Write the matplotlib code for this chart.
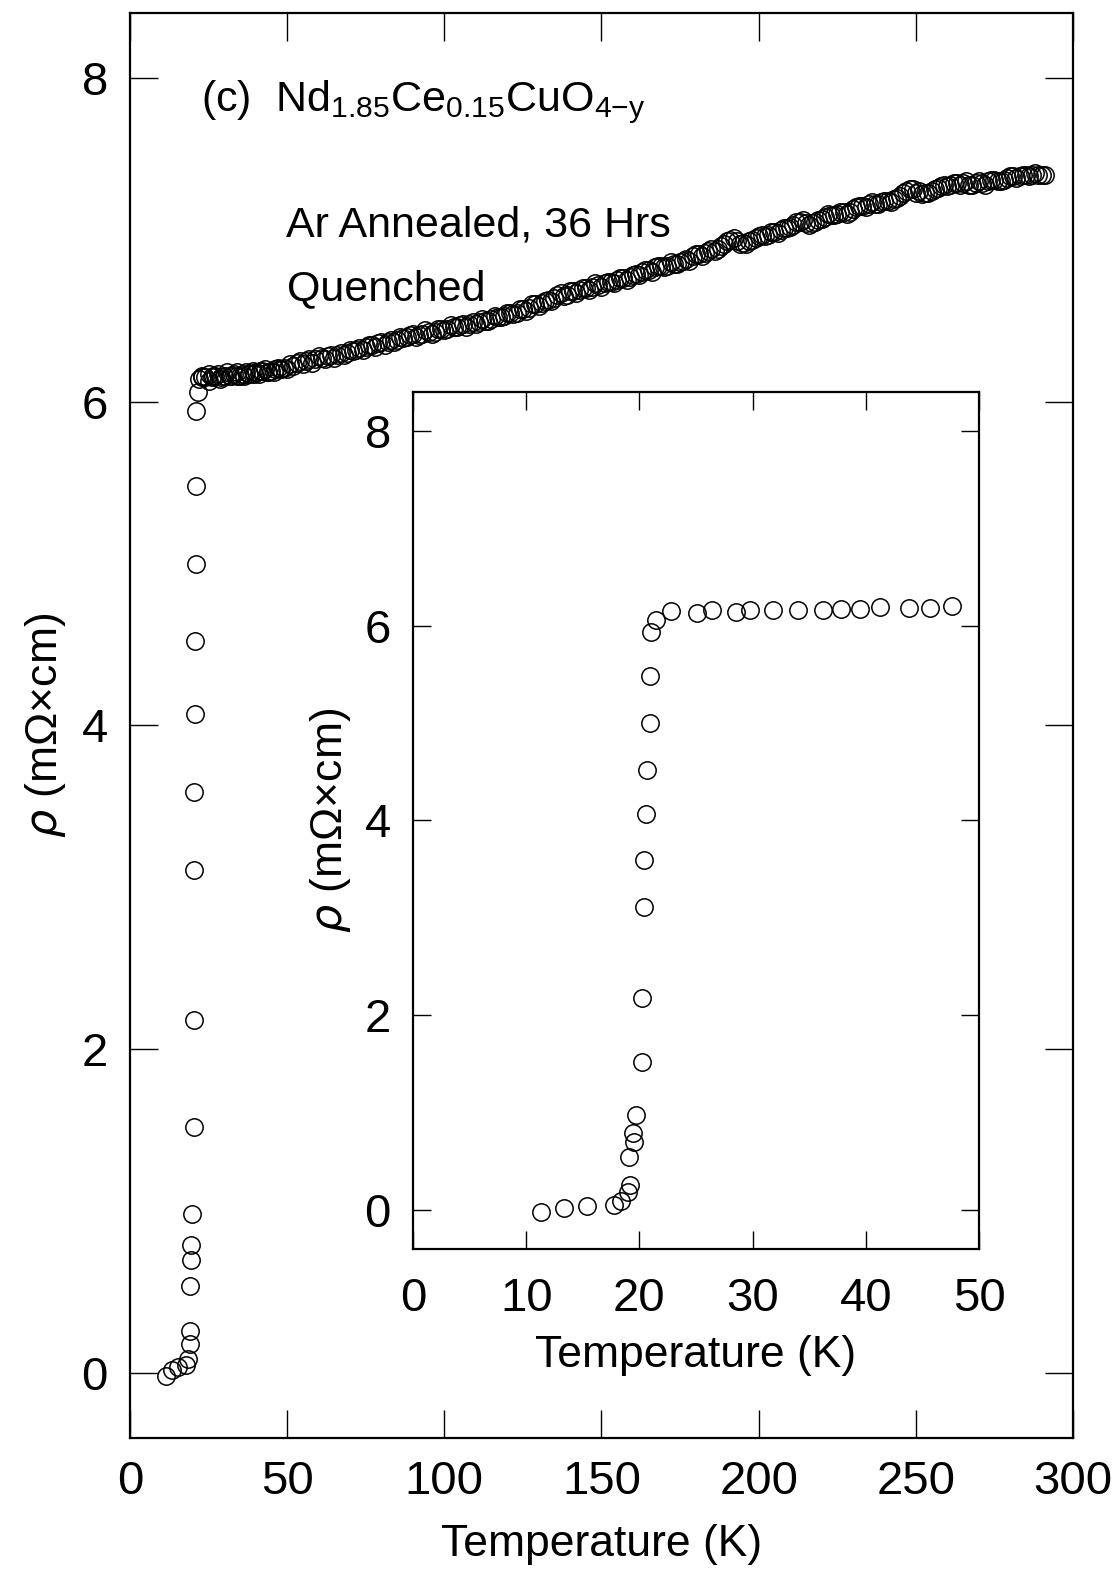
import numpy as np
import matplotlib
matplotlib.use("Agg")
import matplotlib.pyplot as plt

plt.rcParams['font.family'] = ['Liberation Sans', 'DejaVu Sans']
plt.rcParams['mathtext.fontset'] = 'custom'
plt.rcParams['mathtext.rm'] = 'Liberation Sans'
plt.rcParams['mathtext.it'] = 'DejaVu Sans:italic'

# low temperature sweep through the superconducting transition (K, mOhm cm)
t_low = [11.3, 13.3, 15.4, 17.8, 18.4, 19.0, 19.2, 19.1, 19.5, 19.4,
         19.7, 20.2, 20.2, 20.4, 20.4, 20.6, 20.7, 20.9, 20.9, 21.0,
         21.5, 22.8, 25.1, 26.4, 28.5, 29.8, 31.8, 34.0, 36.2, 37.8,
         39.5, 41.3, 43.8, 45.7, 47.6]
rho_low = [-0.02, 0.02, 0.04, 0.05, 0.09, 0.18, 0.26, 0.54, 0.70, 0.79,
           0.98, 1.52, 2.18, 3.11, 3.59, 4.07, 4.52, 5.00, 5.48, 5.94,
           6.06, 6.15, 6.13, 6.16, 6.14, 6.16, 6.16, 6.16, 6.16, 6.17,
           6.17, 6.19, 6.18, 6.18, 6.20]

# extra points of the warming run just above Tc (main panel only)
t_mid = [22, 23, 24, 25, 26, 27, 28, 29, 30, 31,
         32, 33, 34, 35, 36, 37, 38, 39, 40, 41,
         42, 43, 44, 45, 46, 47, 48]
rho_mid = [6.14, 6.16, 6.15, 6.17, 6.15, 6.16, 6.17, 6.15, 6.16, 6.18,
           6.16, 6.17, 6.18, 6.16, 6.17, 6.18, 6.17, 6.19, 6.18, 6.17,
           6.19, 6.20, 6.18, 6.19, 6.20, 6.21, 6.20]

# normal state, 49 K up to room temperature
t_high = [49, 50, 51, 52, 53, 54, 55, 56, 57, 58,
          59, 60, 61, 62, 63, 64, 65, 66, 67, 68,
          69, 70, 71, 72, 73, 74, 75, 76, 77, 78,
          79, 80, 81, 82, 83, 84, 85, 86, 87, 88,
          89, 90, 91, 92, 93, 94, 95, 96, 97, 98,
          99, 100, 101, 102, 103, 104, 105, 106, 107, 108,
          109, 110, 111, 112, 113, 114, 115, 116, 117, 118,
          119, 120, 121, 122, 123, 124, 125, 126, 127, 128,
          129, 130, 131, 132, 133, 134, 135, 136, 137, 138,
          139, 140, 141, 142, 143, 144, 145, 146, 147, 148,
          149, 150, 151, 152, 153, 154, 155, 156, 157, 158,
          159, 160, 161, 162, 163, 164, 165, 166, 167, 168,
          169, 170, 171, 172, 173, 174, 175, 176, 177, 178,
          179, 180, 181, 182, 183, 184, 185, 186, 187, 188,
          189, 190, 191, 192, 193, 194, 195, 196, 197, 198,
          199, 200, 201, 202, 203, 204, 205, 206, 207, 208,
          209, 210, 211, 212, 213, 214, 215, 216, 217, 218,
          219, 220, 221, 222, 223, 224, 225, 226, 227, 228,
          229, 230, 231, 232, 233, 234, 235, 236, 237, 238,
          239, 240, 241, 242, 243, 244, 245, 246, 247, 248,
          249, 250, 251, 252, 253, 254, 255, 256, 257, 258,
          259, 260, 261, 262, 263, 264, 265, 266, 267, 268,
          269, 270, 271, 272, 273, 274, 275, 276, 277, 278,
          279, 280, 281, 282, 283, 284, 285, 286, 287, 288,
          289, 290, 291]
rho_high = [6.21, 6.20, 6.23, 6.22, 6.24, 6.25, 6.23, 6.25, 6.26, 6.24,
            6.26, 6.28, 6.27, 6.26, 6.28, 6.29, 6.27, 6.29, 6.30, 6.29,
            6.30, 6.32, 6.31, 6.32, 6.33, 6.32, 6.34, 6.35, 6.35, 6.34,
            6.36, 6.37, 6.35, 6.37, 6.38, 6.37, 6.38, 6.40, 6.39, 6.40,
            6.41, 6.42, 6.40, 6.41, 6.42, 6.44, 6.43, 6.42, 6.43, 6.45,
            6.45, 6.44, 6.45, 6.47, 6.46, 6.46, 6.47, 6.48, 6.46, 6.48,
            6.49, 6.48, 6.49, 6.51, 6.50, 6.50, 6.51, 6.53, 6.52, 6.52,
            6.53, 6.55, 6.55, 6.54, 6.55, 6.57, 6.57, 6.56, 6.58, 6.60,
            6.60, 6.59, 6.61, 6.62, 6.63, 6.62, 6.64, 6.66, 6.67, 6.65,
            6.66, 6.68, 6.68, 6.67, 6.69, 6.70, 6.70, 6.69, 6.71, 6.73,
            6.72, 6.71, 6.73, 6.74, 6.74, 6.73, 6.75, 6.76, 6.76, 6.75,
            6.77, 6.78, 6.79, 6.78, 6.80, 6.81, 6.81, 6.80, 6.83, 6.84,
            6.84, 6.83, 6.84, 6.86, 6.85, 6.85, 6.86, 6.87, 6.88, 6.87,
            6.90, 6.91, 6.91, 6.90, 6.92, 6.93, 6.94, 6.93, 6.94, 6.96,
            6.97, 6.99, 7.00, 7.01, 6.99, 6.97, 6.98, 6.97, 6.99, 7.00,
            7.01, 7.02, 7.03, 7.02, 7.03, 7.05, 7.05, 7.04, 7.06, 7.07,
            7.07, 7.08, 7.09, 7.11, 7.11, 7.12, 7.10, 7.09, 7.10, 7.11,
            7.12, 7.13, 7.14, 7.16, 7.15, 7.15, 7.16, 7.17, 7.17, 7.16,
            7.17, 7.19, 7.20, 7.21, 7.21, 7.20, 7.22, 7.23, 7.22, 7.22,
            7.23, 7.24, 7.24, 7.23, 7.25, 7.26, 7.27, 7.29, 7.30, 7.31,
            7.31, 7.29, 7.30, 7.28, 7.29, 7.29, 7.30, 7.31, 7.32, 7.33,
            7.34, 7.33, 7.34, 7.35, 7.35, 7.34, 7.35, 7.36, 7.34, 7.34,
            7.35, 7.36, 7.35, 7.34, 7.36, 7.37, 7.37, 7.36, 7.36, 7.37,
            7.38, 7.39, 7.39, 7.38, 7.39, 7.40, 7.40, 7.39, 7.40, 7.41,
            7.40, 7.40, 7.40]

main_xticks = [0, 50, 100, 150, 200, 250, 300]
inset_xticks = [0, 10, 20, 30, 40, 50]
yticks = [0, 2, 4, 6, 8]

t_all = t_low + t_mid + t_high
rho_all = rho_low + rho_mid + rho_high

fig = plt.figure(figsize=(11.15, 15.75), dpi=100)
ax = fig.add_axes([0.1166, 0.0870, 0.8457, 0.9048])
ins = fig.add_axes([0.3704, 0.2070, 0.5076, 0.5441])

mk = dict(ls='none', marker='o', mfc='none', mec='black', mew=1.1, ms=12.5)

ax.plot(t_all, rho_all, **mk)
ax.set_xlim(0, 300)
ax.set_ylim(-0.4, 8.4)
ax.set_xticks(main_xticks)
ax.set_yticks(yticks)
ax.tick_params(direction='in', length=20, width=1.0, labelsize=34,
               top=True, right=True, pad=16)
ax.tick_params(axis='y', pad=16)
for s in ax.spines.values():
    s.set_linewidth(1.6)
ax.set_xlabel('Temperature (K)', fontsize=32, labelpad=14)
ax.set_ylabel(r'$\rho$ (m$\Omega$$\times$cm)', fontsize=32, labelpad=10)

ax.text(0.075, 0.937,
        r'(c)  Nd$_{\mathregular{1.85}}$Ce$_{\mathregular{0.15}}$CuO$_{\mathregular{4{-}y}}$',
        transform=ax.transAxes, fontsize=31, va='center', ha='left')
ax.text(0.165, 0.851, 'Ar Annealed, 36 Hrs', transform=ax.transAxes,
        fontsize=31, va='center', ha='left')
ax.text(0.167, 0.806, 'Quenched', transform=ax.transAxes,
        fontsize=31, va='center', ha='left')

ins.plot(t_low, rho_low, **mk)
ins.set_xlim(0, 50)
ins.set_ylim(-0.4, 8.4)
ins.set_xticks(inset_xticks)
ins.set_yticks(yticks)
ins.tick_params(direction='in', length=13, width=1.0, labelsize=34,
                top=True, right=True, pad=20)
ins.tick_params(axis='y', pad=16)
for s in ins.spines.values():
    s.set_linewidth(1.6)
ins.set_xlabel('Temperature (K)', fontsize=32, labelpad=10)
ins.set_ylabel(r'$\rho$ (m$\Omega$$\times$cm)', fontsize=32, labelpad=8)

fig.savefig('out.png', dpi=100)
